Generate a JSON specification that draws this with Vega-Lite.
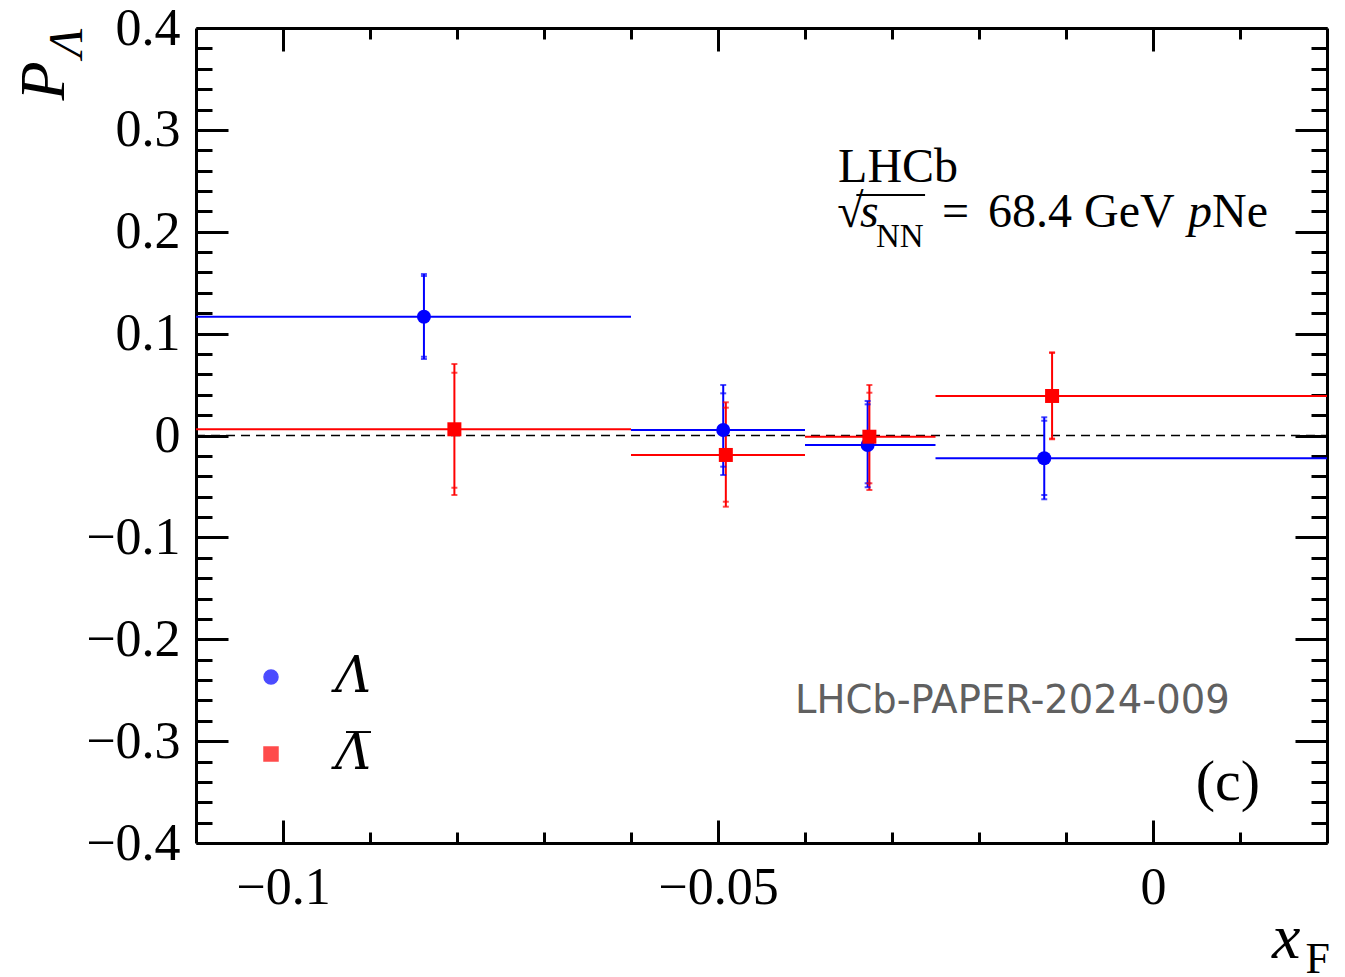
{
  "$schema": "https://vega.github.io/schema/vega-lite/v6.json",
  "width": 1131,
  "height": 815,
  "autosize": "none",
  "padding": {"left": 196, "top": 28, "right": 18, "bottom": 134},
  "background": "white",
  "config": {
    "view": {"stroke": null},
    "axis": {
      "domainColor": "black",
      "domainWidth": 3,
      "tickColor": "black",
      "tickWidth": 3,
      "labelFont": "Liberation Serif",
      "labelFontSize": 52,
      "labelColor": "black",
      "titleFont": "Liberation Serif",
      "titleColor": "black",
      "titleFontWeight": "normal",
      "grid": false,
      "labelOverlap": false,
      "labelBound": false,
      "labelFlush": false
    }
  },
  "datasets": {
    "polarisation": [
      {"species": "Λ", "bin_lo": -0.11, "bin_hi": -0.06, "xF": -0.0838, "P": 0.1166, "stat_lo": 0.0773, "stat_hi": 0.1566, "tot_lo": 0.0751, "tot_hi": 0.1585},
      {"species": "Λ", "bin_lo": -0.06, "bin_hi": -0.04, "xF": -0.0494, "P": 0.0054, "stat_lo": -0.0306, "stat_hi": 0.0414, "tot_lo": -0.0388, "tot_hi": 0.0496},
      {"species": "Λ", "bin_lo": -0.04, "bin_hi": -0.025, "xF": -0.0328, "P": -0.0093, "stat_lo": -0.0469, "stat_hi": 0.0306, "tot_lo": -0.0508, "tot_hi": 0.0339},
      {"species": "Λ", "bin_lo": -0.025, "bin_hi": 0.02, "xF": -0.0125, "P": -0.0224, "stat_lo": -0.0584, "stat_hi": 0.0145, "tot_lo": -0.0626, "tot_hi": 0.0179},
      {"species": "Λ̅", "bin_lo": -0.11, "bin_hi": -0.06, "xF": -0.0803, "P": 0.0061, "stat_lo": -0.0512, "stat_hi": 0.0616, "tot_lo": -0.0584, "tot_hi": 0.0702},
      {"species": "Λ̅", "bin_lo": -0.06, "bin_hi": -0.04, "xF": -0.0491, "P": -0.0191, "stat_lo": -0.065, "stat_hi": 0.0273, "tot_lo": -0.0699, "tot_hi": 0.0326},
      {"species": "Λ̅", "bin_lo": -0.04, "bin_hi": -0.025, "xF": -0.0326, "P": -0.0012, "stat_lo": -0.0469, "stat_hi": 0.042, "tot_lo": -0.0535, "tot_hi": 0.0496},
      {"species": "Λ̅", "bin_lo": -0.025, "bin_hi": 0.02, "xF": -0.0116, "P": 0.0388, "stat_lo": -0.003, "stat_hi": 0.081, "tot_lo": -0.0037, "tot_hi": 0.0817}
    ]
  },
  "layer": [
    {
      "description": "dashed zero line; carries the mirrored top and right axes",
      "data": {"values": [{}]},
      "mark": {"type": "rule", "color": "black", "strokeWidth": 1.5, "strokeDash": [9, 6]},
      "encoding": {
        "x": {
          "datum": -0.11, "type": "quantitative",
          "scale": {"domain": [-0.11, 0.02], "nice": false, "zero": false},
          "axis": {
            "orient": "top",
            "values": [-0.1, -0.09, -0.08, -0.07, -0.06, -0.05, -0.04, -0.03, -0.02, -0.01, 0, 0.01],
            "labels": false,
            "tickSize": {"condition": {"test": "abs(datum.value*20 - round(datum.value*20)) < 1e-6", "value": -23}, "value": -11},
            "title": "F",
            "titleFontSize": 44,
            "titleAngle": 0,
            "titleAlign": "left",
            "titleBaseline": "alphabetic",
            "titleX": 1109,
            "titleY": 944
          }
        },
        "x2": {"datum": 0.02},
        "y": {
          "datum": 0, "type": "quantitative",
          "scale": {"domain": [-0.4, 0.4], "nice": false, "zero": false},
          "axis": {
            "orient": "right",
            "values": [-0.4, -0.38, -0.36, -0.34, -0.32, -0.3, -0.28, -0.26, -0.24, -0.22, -0.2, -0.18, -0.16, -0.14, -0.12, -0.1, -0.08, -0.06, -0.04, -0.02, 0, 0.02, 0.04, 0.06, 0.08, 0.1, 0.12, 0.14, 0.16, 0.18, 0.2, 0.22, 0.24, 0.26, 0.28, 0.3, 0.32, 0.34, 0.36, 0.38, 0.4],
            "labels": false,
            "tickSize": {"condition": {"test": "abs(datum.value*10 - round(datum.value*10)) < 1e-6", "value": -32}, "value": -16},
            "title": "Λ",
            "titleFontSize": 48,
            "titleFontStyle": "italic",
            "titleAngle": 270,
            "titleAlign": "left",
            "titleBaseline": "alphabetic",
            "titleX": -1246,
            "titleY": 29
          }
        }
      }
    },
    {
      "description": "bin widths",
      "data": {"name": "polarisation"},
      "mark": {"type": "rule", "strokeWidth": 2},
      "encoding": {
        "x": {"field": "bin_lo", "type": "quantitative", "axis": null},
        "x2": {"field": "bin_hi"},
        "y": {"field": "P", "type": "quantitative", "axis": null},
        "color": {"field": "species", "type": "nominal"}
      }
    },
    {
      "description": "total uncertainty bars",
      "data": {"name": "polarisation"},
      "mark": {"type": "rule", "strokeWidth": 2},
      "encoding": {
        "x": {"field": "xF", "type": "quantitative", "axis": null},
        "y": {"field": "tot_lo", "type": "quantitative", "axis": null},
        "y2": {"field": "tot_hi"},
        "color": {"field": "species", "type": "nominal"}
      }
    },
    {
      "description": "caps for statistical and total uncertainties",
      "data": {"name": "polarisation"},
      "transform": [{"fold": ["stat_lo", "stat_hi", "tot_lo", "tot_hi"], "as": ["cap", "cap_P"]}],
      "mark": {"type": "tick", "orient": "horizontal", "size": 6, "thickness": 2},
      "encoding": {
        "x": {"field": "xF", "type": "quantitative", "axis": null},
        "y": {"field": "cap_P", "type": "quantitative", "axis": null},
        "color": {"field": "species", "type": "nominal"}
      }
    },
    {
      "description": "central values",
      "data": {"name": "polarisation"},
      "mark": {"type": "point", "filled": true, "opacity": 1, "size": 196},
      "encoding": {
        "x": {
          "field": "xF", "type": "quantitative",
          "scale": {"domain": [-0.11, 0.02], "nice": false, "zero": false},
          "axis": {
            "orient": "bottom",
            "values": [-0.1, -0.09, -0.08, -0.07, -0.06, -0.05, -0.04, -0.03, -0.02, -0.01, 0, 0.01],
            "format": "~g",
            "labelExpr": "abs(datum.value*20 - round(datum.value*20)) < 1e-6 ? datum.label : ''",
            "tickSize": {"condition": {"test": "abs(datum.value*20 - round(datum.value*20)) < 1e-6", "value": -23}, "value": -11},
            "labelPadding": 42,
            "labelBaseline": "top",
            "title": "x",
            "titleFontSize": 64,
            "titleFontStyle": "italic",
            "titleAngle": 0,
            "titleAlign": "right",
            "titleBaseline": "alphabetic",
            "titleX": 1104,
            "titleY": 114
          }
        },
        "y": {
          "field": "P", "type": "quantitative",
          "scale": {"domain": [-0.4, 0.4], "nice": false, "zero": false},
          "axis": {
            "orient": "left",
            "values": [-0.4, -0.38, -0.36, -0.34, -0.32, -0.3, -0.28, -0.26, -0.24, -0.22, -0.2, -0.18, -0.16, -0.14, -0.12, -0.1, -0.08, -0.06, -0.04, -0.02, 0, 0.02, 0.04, 0.06, 0.08, 0.1, 0.12, 0.14, 0.16, 0.18, 0.2, 0.22, 0.24, 0.26, 0.28, 0.3, 0.32, 0.34, 0.36, 0.38, 0.4],
            "format": "~g",
            "labelExpr": "abs(datum.value*10 - round(datum.value*10)) < 1e-6 ? datum.label : ''",
            "tickSize": {"condition": {"test": "abs(datum.value*10 - round(datum.value*10)) < 1e-6", "value": -32}, "value": -16},
            "labelPadding": 48,
            "title": "P",
            "titleFontSize": 64,
            "titleFontStyle": "italic",
            "titleAngle": 270,
            "titleAlign": "left",
            "titleBaseline": "alphabetic",
            "titleX": -133,
            "titleY": 72
          }
        },
        "shape": {
          "field": "species", "type": "nominal",
          "scale": {"domain": ["Λ", "Λ̅"], "range": ["circle", "square"]},
          "legend": null
        },
        "color": {
          "field": "species", "type": "nominal",
          "scale": {"domain": ["Λ", "Λ̅"], "range": ["#0000ff", "#ff0000"]},
          "legend": {
            "title": null,
            "orient": "none",
            "legendX": 50,
            "legendY": 624,
            "padding": 0,
            "labelFont": "DejaVu Serif",
            "labelFontStyle": "italic",
            "labelFontSize": 50,
            "labelColor": "black",
            "labelOffset": 39,
            "rowPadding": 27,
            "symbolSize": 196,
            "symbolOpacity": 1
          }
        }
      }
    },
    {
      "data": {"values": [{}]},
      "mark": {"type": "text", "text": "LHCb", "font": "Liberation Serif", "fontSize": 48, "align": "left", "baseline": "alphabetic", "color": "black"},
      "encoding": {
        "x": {"datum": -0.0362, "type": "quantitative", "axis": null},
        "y": {"datum": 0.2488, "type": "quantitative", "axis": null}
      }
    },
    {
      "data": {"values": [{}]},
      "mark": {"type": "text", "text": "√", "font": "Liberation Serif", "fontSize": 48, "align": "left", "baseline": "alphabetic", "color": "black"},
      "encoding": {
        "x": {"datum": -0.0363, "type": "quantitative", "axis": null},
        "y": {"datum": 0.2047, "type": "quantitative", "axis": null}
      }
    },
    {
      "data": {"values": [{}]},
      "mark": {"type": "rule", "color": "black", "strokeWidth": 2},
      "encoding": {
        "x": {"datum": -0.0341, "type": "quantitative", "axis": null},
        "x2": {"datum": -0.0262},
        "y": {"datum": 0.2361, "type": "quantitative", "axis": null}
      }
    },
    {
      "data": {"values": [{}]},
      "mark": {"type": "text", "text": "s", "font": "Liberation Serif", "fontStyle": "italic", "fontSize": 48, "align": "left", "baseline": "alphabetic", "color": "black"},
      "encoding": {
        "x": {"datum": -0.03368, "type": "quantitative", "axis": null},
        "y": {"datum": 0.2047, "type": "quantitative", "axis": null}
      }
    },
    {
      "data": {"values": [{}]},
      "mark": {"type": "text", "text": "NN", "font": "Liberation Serif", "fontSize": 33, "align": "left", "baseline": "alphabetic", "color": "black"},
      "encoding": {
        "x": {"datum": -0.03184, "type": "quantitative", "axis": null},
        "y": {"datum": 0.185, "type": "quantitative", "axis": null}
      }
    },
    {
      "data": {"values": [{}]},
      "mark": {"type": "text", "text": "=", "font": "Liberation Serif", "fontSize": 48, "align": "left", "baseline": "alphabetic", "color": "black"},
      "encoding": {
        "x": {"datum": -0.02425, "type": "quantitative", "axis": null},
        "y": {"datum": 0.2047, "type": "quantitative", "axis": null}
      }
    },
    {
      "data": {"values": [{}]},
      "mark": {"type": "text", "text": "68.4 GeV", "font": "Liberation Serif", "fontSize": 48, "align": "left", "baseline": "alphabetic", "color": "black"},
      "encoding": {
        "x": {"datum": -0.01897, "type": "quantitative", "axis": null},
        "y": {"datum": 0.2047, "type": "quantitative", "axis": null}
      }
    },
    {
      "data": {"values": [{}]},
      "mark": {"type": "text", "text": "p", "font": "Liberation Serif", "fontStyle": "italic", "fontSize": 48, "align": "left", "baseline": "alphabetic", "color": "black"},
      "encoding": {
        "x": {"datum": 0.00402, "type": "quantitative", "axis": null},
        "y": {"datum": 0.2047, "type": "quantitative", "axis": null}
      }
    },
    {
      "data": {"values": [{}]},
      "mark": {"type": "text", "text": "Ne", "font": "Liberation Serif", "fontSize": 48, "align": "left", "baseline": "alphabetic", "color": "black"},
      "encoding": {
        "x": {"datum": 0.00678, "type": "quantitative", "axis": null},
        "y": {"datum": 0.2047, "type": "quantitative", "axis": null}
      }
    },
    {
      "data": {"values": [{}]},
      "mark": {"type": "text", "text": "LHCb-PAPER-2024-009", "font": "DejaVu Sans", "fontSize": 38.5, "align": "left", "baseline": "alphabetic", "color": "#606060"},
      "encoding": {
        "x": {"datum": -0.04115, "type": "quantitative", "axis": null},
        "y": {"datum": -0.2724, "type": "quantitative", "axis": null}
      }
    },
    {
      "data": {"values": [{}]},
      "mark": {"type": "text", "text": "(c)", "font": "Liberation Serif", "fontSize": 58, "align": "right", "baseline": "alphabetic", "color": "black"},
      "encoding": {
        "x": {"datum": 0.0123, "type": "quantitative", "axis": null},
        "y": {"datum": -0.3578, "type": "quantitative", "axis": null}
      }
    }
  ],
  "resolve": {"axis": {"x": "independent", "y": "independent"}}
}
